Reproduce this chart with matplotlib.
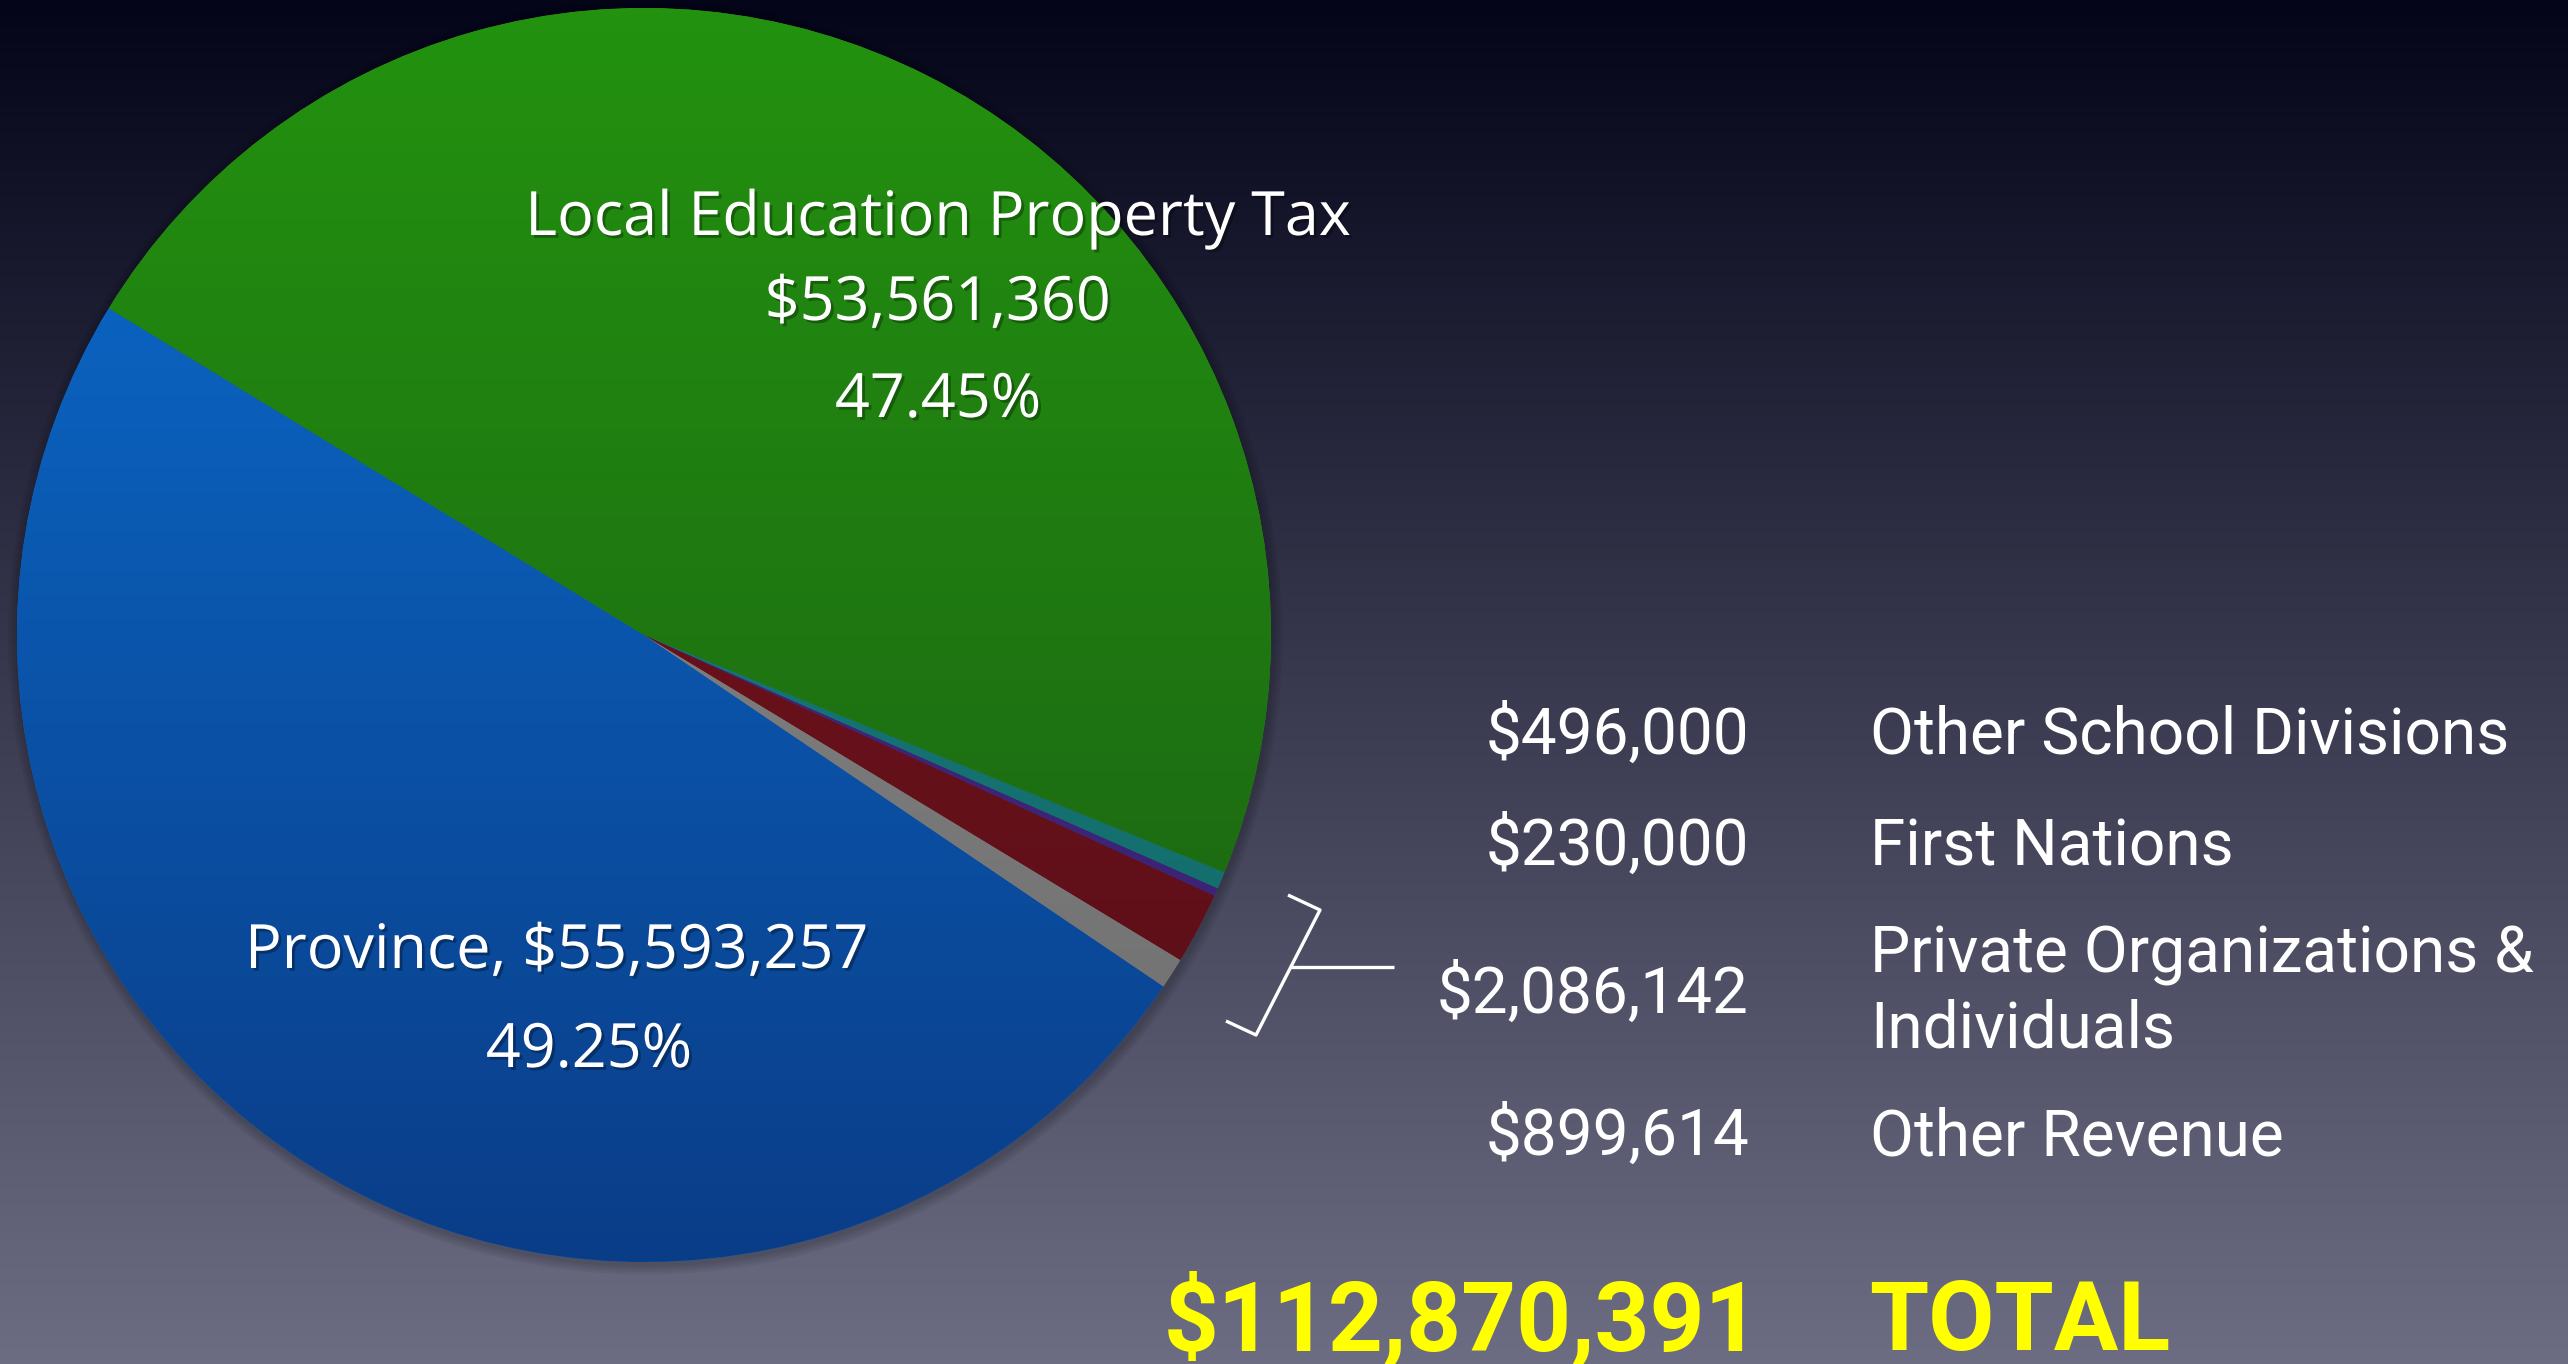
import numpy as np
import matplotlib.pyplot as plt
import matplotlib.patheffects as pe
from matplotlib.colors import LinearSegmentedColormap
from matplotlib.patches import Circle

# slices, counter-clockwise starting at the Province wedge
sources = ['Province', 'Other Revenue', 'Private Organizations & Individuals',
           'First Nations', 'Other School Divisions', 'Local Education Property Tax']
amounts = [55593257, 899614, 2086142, 230000, 496000, 53561360]
top_colors = ['#0b6ed0', '#8a8a8a', '#7c1420', '#4a2c8c', '#1a8282', '#23920f']
bottom_colors = ['#0a3d88', '#6e6e6e', '#560e16', '#35206c', '#126666', '#1a5c14']
total = 112870391

# right-hand breakdown
side_amounts = [496000, 230000, 2086142, 899614]
side_names = [['Other School Divisions'], ['First Nations'],
              ['Private Organizations &', 'Individuals'], ['Other Revenue']]

W, H = 2568, 1364
fig = plt.figure(figsize=(W / 100, H / 100), dpi=100)

def fx(x):
    return x / W

def fy(y):
    return 1 - y / H

# background gradient
bg = fig.add_axes([0, 0, 1, 1])
bg_cmap = LinearSegmentedColormap.from_list('bg', ['#6c6d83', '#05051a'])
bg.imshow(np.linspace(0, 1, 256).reshape(-1, 1), cmap=bg_cmap, origin='lower',
          aspect='auto', extent=(0, 1, 0, 1))
bg.set_axis_off()

# pie
cx, cy, r = 644, 635, 627
ax = fig.add_axes([fx(cx - r), fy(cy + r), 2 * r / W, 2 * r / H])
for k in range(4):
    ax.add_patch(Circle((0.002, -0.004), 1.004 + 0.004 * k, color='black', alpha=0.05,
                        lw=0, clip_on=False))
wedges, _ = ax.pie(amounts, colors=top_colors, startangle=148.6, counterclock=True,
                   radius=1, wedgeprops=dict(linewidth=0))
grad = np.linspace(0, 1, 256).reshape(-1, 1)
for w, c0, c1 in zip(wedges, bottom_colors, top_colors):
    cm = LinearSegmentedColormap.from_list('g', [c0, c1])
    im = ax.imshow(grad, cmap=cm, origin='lower', aspect='auto', extent=(-1, 1, -1, 1),
                   zorder=3)
    im.set_clip_path(w)
ax.set_xlim(-1, 1)
ax.set_ylim(-1, 1)
ax.set_aspect('equal')
ax.set_axis_off()

shadow = [pe.withSimplePatchShadow(offset=(2, -2), shadow_rgbFace='black', alpha=0.3)]
lab = dict(color='white', fontsize=44, family='Open Sans', ha='center', va='baseline',
           path_effects=shadow, zorder=5)
fig.text(fx(938), fy(235), sources[5], **lab)
fig.text(fx(938), fy(320), f'${amounts[5]:,}', **lab)
fig.text(fx(938), fy(417), f'{amounts[5] / total * 100:.2f}%', **lab)
fig.text(fx(557), fy(968), f'{sources[0]}, ${amounts[0]:,}', **lab)
fig.text(fx(589), fy(1067), f'{amounts[0] / total * 100:.2f}%', **lab)

# side list
val_base = [754, 865, 1013, 1155]
name_base = [[754], [865], [973, 1048], [1155]]
side = dict(color='white', fontsize=46, family='Roboto', va='baseline')
for v, yb, names, nb in zip(side_amounts, val_base, side_names, name_base):
    fig.text(fx(1749), fy(yb), f'${v:,}', ha='right', **side)
    for n, y in zip(names, nb):
        fig.text(fx(1870), fy(y), n, ha='left', **side)

tot = dict(color='#ffff00', fontsize=69, family='Roboto', weight='bold', va='baseline')
fig.text(fx(1760), fy(1350), f'${total:,}', ha='right', **tot)
fig.text(fx(1869), fy(1350), 'TOTAL', ha='left', **tot)

# bracket around the small slices
br = dict(color='white', lw=2.4, transform=fig.transFigure, solid_capstyle='butt')
fig.add_artist(plt.Line2D([fx(1288), fx(1320), fx(1256), fx(1226)],
                          [fy(895), fy(910), fy(1035), fy(1021)], **br))
fig.add_artist(plt.Line2D([fx(1291), fx(1394)], [fy(967), fy(967)], **br))

fig.savefig('out.png', dpi=100)
